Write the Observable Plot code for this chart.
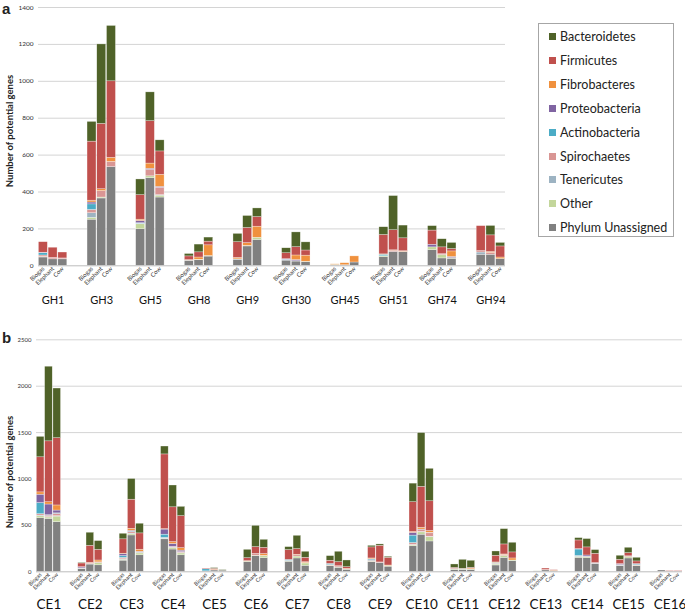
<!DOCTYPE html>
<html><head><meta charset="utf-8">
<script src="https://cdn.jsdelivr.net/npm/d3@7"></script>
<script src="https://cdn.jsdelivr.net/npm/@observablehq/plot@0.6"></script>
<style>
body{margin:0;background:#fff;}
#wrap{position:relative;width:685px;height:612px;overflow:hidden;font-family:Lato,"Open Sans",sans-serif;color:#222;}
.abs{position:absolute;}
.plabel{font-family:"Liberation Sans",Arial,sans-serif;font-weight:bold;font-size:15px;line-height:15px;}
.ytitle{font-family:Lato,sans-serif;font-weight:bold;font-size:9.5px;white-space:nowrap;transform:translate(-50%,-50%) rotate(-90deg);}
#legend{border:1px solid #a6a6a6;box-sizing:border-box;}
.li{position:absolute;left:10px;font-size:12.5px;line-height:14px;white-space:nowrap;}
.sw{display:inline-block;width:7px;height:7px;margin-right:4px;vertical-align:1px;}
</style></head>
<body><div id="wrap"></div>
<script>
// ---- categories ----
const phyla = ["Phylum Unassigned","Other","Tenericutes","Spirochaetes","Actinobacteria","Proteobacteria","Fibrobacteres","Firmicutes","Bacteroidetes"];
const phylaColors = ["#808080","#c3d69b","#9db3c2","#d99694","#4bacc6","#8064a2","#f0913e","#c0504d","#4f6228"];
const sources = ["Biogas","Elephant","Cow"];
const ghGroups = ["GH1","GH3","GH5","GH8","GH9","GH30","GH45","GH51","GH74","GH94"];
const ceGroups = ["CE1","CE2","CE3","CE4","CE5","CE6","CE7","CE8","CE9","CE10","CE11","CE12","CE13","CE14","CE15","CE16"];
const ghTicks = [0,200,400,600,800,1000,1200,1400];
const ceTicks = [0,500,1000,1500,2000,2500];

// ---- panel a values (per group: Biogas, Elephant, Cow) ----
const ghUnassigned   = [45,35,35, 250,365,535, 198,475,370, 25,30,50, 32,105,140, 28,23,20, 3,3,18, 47,75,74, 85,40,38, 60,60,37];
const ghOther        = [3,0,0, 10,5,0, 27,10,10, 0,3,3, 0,3,12, 0,2,2, 2,0,0, 5,0,0, 15,18,4, 0,0,0];
const ghTenericutes  = [0,0,0, 25,0,0, 3,0,3, 3,0,0, 3,0,0, 2,0,0, 0,0,0, 0,0,0, 0,0,0, 12,0,0];
const ghSpirochaetes = [8,8,5, 18,35,28, 0,35,40, 0,0,0, 0,0,0, 0,0,0, 0,0,0, 0,7,2, 0,5,0, 8,10,0];
const ghActino       = [12,0,0, 30,0,0, 3,0,0, 0,0,0, 0,0,0, 3,0,0, 0,0,0, 8,0,0, 0,0,0, 0,0,0];
const ghProteo       = [3,0,0, 10,0,0, 12,6,5, 0,0,0, 0,0,0, 3,6,0, 0,0,0, 0,0,0, 14,0,6, 0,0,0];
const ghFibro        = [0,0,0, 10,10,22, 7,28,65, 3,12,58, 8,15,60, 0,25,33, 3,11,33, 2,2,3, 0,0,30, 0,5,8];
const ghFirmicutes   = [57,55,32, 320,354,415, 133,230,127, 20,28,20, 85,82,52, 32,45,28, 0,0,0, 105,109,70, 77,37,13, 135,90,60];
const ghBacteroid    = [0,0,0, 107,431,300, 85,156,60, 13,42,22, 45,65,47, 27,80,44, 0,0,0, 42,185,69, 24,44,33, 0,51,19];

// ---- panel b values ----
const ceUnassigned   = [578,570,535, 30,78,70, 120,392,178, 350,240,178, 5,14,12, 105,168,147, 108,144,65, 60,43,22, 104,94,55, 275,400,327, 20,20,20, 68,150,115, 5,15,8, 150,147,85, 60,144,60, 14,0,0];
const ceOther        = [20,15,60, 3,5,25, 10,15,20, 5,15,20, 0,0,0, 5,5,20, 5,20,25, 5,5,3, 5,0,8, 10,25,45, 5,4,5, 10,20,7, 2,0,0, 10,10,0, 3,15,5, 0,0,0];
const ceTenericutes  = [8,5,5, 2,0,0, 5,5,3, 5,5,5, 0,0,0, 0,0,0, 0,0,0, 0,0,0, 0,0,0, 5,5,5, 0,0,0, 5,0,0, 0,0,0, 5,3,3, 5,0,0, 0,0,0];
const ceSpirochaetes = [15,15,25, 3,8,7, 15,15,5, 5,10,10, 0,0,0, 0,20,5, 5,15,5, 8,12,0, 10,7,0, 20,20,38, 0,3,0, 5,12,0, 0,5,0, 5,3,3, 5,8,8, 0,5,5];
const ceActino       = [120,5,5, 0,0,0, 20,5,5, 35,0,0, 22,0,0, 0,0,0, 10,0,0, 12,0,0, 12,0,0, 80,0,0, 0,0,0, 8,0,0, 0,0,0, 70,0,3, 0,0,10, 0,0,0];
const ceProteo       = [90,115,30, 12,0,0, 20,10,5, 55,30,15, 0,0,0, 0,0,0, 0,0,0, 0,0,0, 5,0,0, 30,5,5, 5,0,0, 0,0,0, 0,0,0, 5,13,0, 10,0,0, 0,0,0];
const ceFibro        = [25,25,55, 0,5,20, 5,22,22, 5,20,27, 0,8,0, 5,0,20, 0,5,8, 0,0,8, 8,0,5, 10,20,20, 2,0,10, 5,5,22, 0,0,5, 0,0,0, 0,0,0, 0,0,0];
const ceFirmicutes   = [378,656,725, 40,184,115, 155,313,176, 805,375,345, 8,10,0, 32,73,67, 106,61,48, 34,44,17, 119,179,83, 320,440,320, 10,5,8, 72,108,65, 0,15,5, 93,87,100, 46,34,29, 0,6,6];
const ceBacteroid    = [220,804,535, 7,141,94, 60,223,104, 85,235,100, 0,8,6, 90,229,86, 32,143,65, 50,112,72, 17,15,11, 200,580,350, 37,97,76, 46,165,104, 0,0,0, 25,90,40, 44,58,39, 0,0,0];

const ghArrays = [ghUnassigned,ghOther,ghTenericutes,ghSpirochaetes,ghActino,ghProteo,ghFibro,ghFirmicutes,ghBacteroid];
const ceArrays = [ceUnassigned,ceOther,ceTenericutes,ceSpirochaetes,ceActino,ceProteo,ceFibro,ceFirmicutes,ceBacteroid];

function buildRows(groups, arrays) {
  const rows = [];
  arrays.forEach((arr, p) => {
    groups.forEach((g, gi) => {
      sources.forEach((s, si) => {
        rows.push({group: g, source: s, slot: g + "|" + s, phylum: phyla[p], value: arr[gi * 3 + si]});
      });
    });
  });
  return rows;
}
function buildSlots(groups) {
  const slots = [];
  groups.forEach((g, i) => {
    sources.forEach(s => slots.push(g + "|" + s));
    if (i < groups.length - 1) { slots.push(g + "|_1"); slots.push(g + "|_2"); }
  });
  return slots;
}

function panel(groups, arrays, ticks, o) {
  const slots = buildSlots(groups);
  const labelled = slots.filter(d => !d.includes("|_"));
  return Plot.plot({
    width: o.width, height: o.height,
    marginTop: o.mt, marginBottom: o.mb, marginLeft: o.ml, marginRight: o.mr,
    style: {fontFamily: "Lato, 'Open Sans', sans-serif", color: "#404040", background: "transparent", overflow: "visible"},
    x: {domain: slots, paddingInner: 0.08, paddingOuter: 0.04, round: false},
    y: {domain: [0, ticks[ticks.length - 1]]},
    color: {domain: phyla, range: phylaColors},
    marks: [
      Plot.ruleY(ticks.slice(1), {stroke: "#d4d4d4", strokeWidth: 1}),
      Plot.axisY(ticks, {tickSize: 0, tickPadding: 5, fontSize: o.yfs, label: null, fill: "#333", tickFormat: d3.format("d")}),
      Plot.barY(buildRows(groups, arrays), {x: "slot", y: "value", fill: "phylum", order: phyla, stroke: "#ffffff", strokeOpacity: 0.6, strokeWidth: 0.5, inset: 0}),
      Plot.ruleY([0], {stroke: "#bdbdbd"}),
      Plot.axisX(labelled, {tickSize: 0, tickPadding: 2, tickRotate: -45, fontSize: o.xfs, label: null, tickFormat: d => d.split("|")[1], fill: "#333"}),
      Plot.text(groups, {x: d => d + "|Elephant", frameAnchor: "bottom", dy: o.gdy, text: d => d, fontSize: o.gfs, fill: "#111", lineAnchor: "middle"})
    ]
  });
}

const wrap = document.getElementById("wrap");

const a = panel(ghGroups, ghArrays, ghTicks, {width: 510, height: 320, mt: 7, mb: 54.7, ml: 38, mr: 5, yfs: 6.5, xfs: 6, gfs: 11, gdy: 35});
a.classList.add("abs"); a.style.left = "0px"; a.style.top = "0px";
wrap.appendChild(a);

const b = panel(ceGroups, ceArrays, ceTicks, {width: 685, height: 292, mt: 19.3, mb: 40.7, ml: 36, mr: 3, yfs: 6, xfs: 5.5, gfs: 13.5, gdy: 32.5});
b.classList.add("abs"); b.style.left = "0px"; b.style.top = "320px";
wrap.appendChild(b);

function addDiv(cls, text, css) {
  const d = document.createElement("div");
  d.className = "abs " + cls; d.textContent = text;
  Object.assign(d.style, css);
  wrap.appendChild(d);
  return d;
}
addDiv("plabel", "a", {left: "2px", top: "1px"});
addDiv("plabel", "b", {left: "2px", top: "330px"});
addDiv("ytitle", "Number of potential genes", {left: "9px", top: "131px"});
addDiv("ytitle", "Number of potential genes", {left: "9px", top: "472px"});

// legend (top to bottom = reverse of stacking order)
const leg = document.createElement("div");
leg.id = "legend"; leg.className = "abs";
Object.assign(leg.style, {left: "538px", top: "23px", width: "136px", height: "214px"});
wrap.appendChild(leg);
phyla.slice().reverse().forEach((p, i) => {
  const it = document.createElement("div");
  it.className = "li";
  it.style.top = (6 + i * 23.9) + "px";
  const sw = document.createElement("span");
  sw.className = "sw";
  sw.style.background = phylaColors[phyla.indexOf(p)];
  it.appendChild(sw);
  it.appendChild(document.createTextNode(p));
  leg.appendChild(it);
});
</script></body></html>
